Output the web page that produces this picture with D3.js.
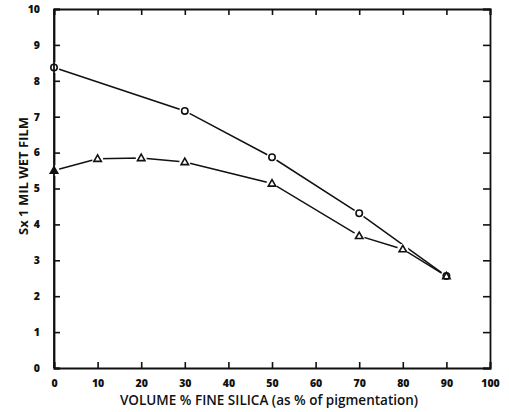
<!DOCTYPE html>
<html>
<head>
<meta charset="utf-8">
<script src="https://cdn.jsdelivr.net/npm/d3@7"></script>
<style>
  body { margin: 0; background: #fff; }
  svg { display: block; }
  text { font-family: "Open Sans", sans-serif; fill: #111; }
</style>
</head>
<body>
<svg></svg>
<script>
let silica = [0, 30, 50, 70, 90]
let circleValues = [8.37, 7.16, 5.87, 4.31, 2.56]

let silicaTri = [0, 10, 20, 30, 50, 70, 80, 90]
let triangleValues = [5.5, 5.83, 5.85, 5.74, 5.14, 3.68, 3.31, 2.56]

let xTicks = [0, 10, 20, 30, 40, 50, 60, 70, 80, 90, 100]
let yTicks = [0, 1, 2, 3, 4, 5, 6, 7, 8, 9, 10]

let width = 509
let height = 412
let plotLeft = 54
let plotRight = 490
let plotTop = 9
let plotBottom = 368

let svg = d3.select('svg')
    .attr('width', width)
    .attr('height', height)

let xScale = d3.scaleLinear().domain([0, 100]).range([plotLeft, plotRight])
let yScale = d3.scaleLinear().domain([0, 10]).range([plotBottom, plotTop])

// axes with inward ticks
let xAxis = d3.axisBottom(xScale).tickValues(xTicks).tickSize(-6).tickPadding(12)
let yAxis = d3.axisLeft(yScale).tickValues(yTicks).tickSize(-6).tickPadding(14)

svg.append('g')
    .attr('transform', 'translate(0,' + plotBottom + ')')
    .call(xAxis)
svg.append('g')
    .attr('transform', 'translate(' + plotLeft + ',0)')
    .call(yAxis)

svg.append('g')
    .attr('transform', 'translate(0,' + plotTop + ')')
    .call(d3.axisTop(xScale).tickValues(xTicks).tickSize(-6).tickFormat(''))
svg.append('g')
    .attr('transform', 'translate(' + plotRight + ',0)')
    .call(d3.axisRight(yScale).tickValues(yTicks).tickSize(-7).tickFormat(''))

svg.selectAll('.domain').attr('stroke', '#111').attr('stroke-width', 1.8)
svg.selectAll('.tick line').attr('stroke', '#111').attr('stroke-width', 1.6)
svg.selectAll('.tick text')
    .style('font-size', '10.5px')
    .style('font-weight', 800)
    .attr('fill', '#111')

// lines
let circleData = silica.map((x, i) => [x, circleValues[i]])
let triData = silicaTri.map((x, i) => [x, triangleValues[i]])

let line = d3.line()
    .x(d => xScale(d[0]))
    .y(d => yScale(d[1]))

svg.append('path')
    .datum(circleData)
    .attr('d', line)
    .attr('fill', 'none')
    .attr('stroke', '#111')
    .attr('stroke-width', 1.5)

svg.append('path')
    .datum(triData)
    .attr('d', line)
    .attr('fill', 'none')
    .attr('stroke', '#111')
    .attr('stroke-width', 1.5)

// white gaps around markers
svg.selectAll('.gapc')
    .data(circleData.concat(triData))
    .enter()
    .append('circle')
    .attr('cx', d => xScale(d[0]))
    .attr('cy', d => yScale(d[1]))
    .attr('r', 5.5)
    .attr('fill', '#fff')

// circle markers
svg.selectAll('.mc')
    .data(circleData)
    .enter()
    .append('circle')
    .attr('cx', d => xScale(d[0]))
    .attr('cy', d => yScale(d[1]))
    .attr('r', 3.2)
    .attr('fill', '#fff')
    .attr('stroke', '#111')
    .attr('stroke-width', 1.6)

// triangle markers
let tri = d3.symbol().type(d3.symbolTriangle).size(24)
svg.selectAll('.mt')
    .data(triData)
    .enter()
    .append('path')
    .attr('d', tri)
    .attr('transform', d => 'translate(' + xScale(d[0]) + ',' + (yScale(d[1]) + 0.5) + ')')
    .attr('fill', d => d[0] == 0 ? '#111' : 'none')
    .attr('stroke', '#111')
    .attr('stroke-width', 1.6)

// redraw left axis line over markers
svg.append('line')
    .attr('x1', plotLeft).attr('x2', plotLeft)
    .attr('y1', plotTop).attr('y2', plotBottom)
    .attr('stroke', '#111')
    .attr('stroke-width', 1.8)

// axis titles
svg.append('text')
    .attr('x', (plotLeft + plotRight) / 2 - 3)
    .attr('y', 405)
    .attr('text-anchor', 'middle')
    .style('font-size', '13.5px')
    .style('font-weight', 600)
    .text('VOLUME % FINE SILICA (as % of pigmentation)')

svg.append('text')
    .attr('transform', 'translate(28,176) rotate(-90)')
    .attr('text-anchor', 'middle')
    .style('font-size', '13px')
    .style('font-weight', 700)
    .text('Sx 1 MIL WET FILM')
</script>
</body>
</html>
